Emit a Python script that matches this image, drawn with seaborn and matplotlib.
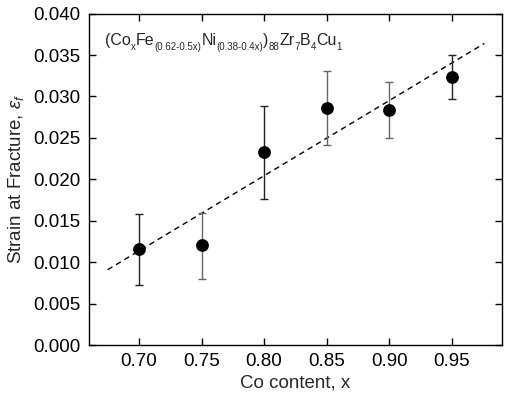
import matplotlib
matplotlib.use("Agg")
import matplotlib.pyplot as plt
import matplotlib.transforms as mtransforms
import seaborn as sns
from pandas import DataFrame

# data
co = [0.70, 0.75, 0.80, 0.85, 0.90, 0.95]
strain = [0.0116, 0.0121, 0.0233, 0.0286, 0.0284, 0.0324]
err_hi = [0.0158, 0.0160, 0.0289, 0.0331, 0.0318, 0.0350]
err_lo = [0.0073, 0.0080, 0.0176, 0.0242, 0.0250, 0.0297]
bar_colors = ["#222222", "#666666", "#222222", "#666666", "#666666", "#222222"]
fit_x = [0.675, 0.976]
fit_y = [0.0091, 0.0364]

# formula pieces: (text, is_subscript)
formula = [("(Co", False), ("x", True), ("Fe", False), ("(0.62-0.5x)", True),
           ("Ni", False), ("(0.38-0.4x)", True), (")", False), ("88", True),
           ("Zr", False), ("7", True), ("B", False), ("4", True),
           ("Cu", False), ("1", True)]

sns.set_theme(style="ticks")
plt.rcParams['font.family'] = ['Liberation Sans', 'DejaVu Sans']
plt.rcParams['mathtext.fontset'] = 'custom'
plt.rcParams['mathtext.rm'] = 'Liberation Sans'
plt.rcParams['mathtext.it'] = 'Liberation Sans:italic'

fig, ax = plt.subplots(figsize=(5.08, 3.99), dpi=100)
fig.subplots_adjust(left=0.175, right=0.988, top=0.966, bottom=0.135)

df = DataFrame({'x': co, 'y': strain})
df_fit = DataFrame({'x': fit_x, 'y': fit_y})

sns.lineplot(x='x', y='y', data=df_fit, ax=ax, color='black', linewidth=1.0)
ax.lines[0].set_linestyle((0, (4, 3)))

for xi, yi, hi, lo, c in zip(co, strain, err_hi, err_lo, bar_colors):
    ax.errorbar([xi], [yi], yerr=[[yi - lo], [hi - yi]], fmt='none',
                ecolor=c, elinewidth=1.0, capsize=3, capthick=1.0)

sns.scatterplot(x='x', y='y', data=df, ax=ax, color='black', s=85,
                edgecolor='black', linewidth=0, zorder=5)

ax.set_xlim(0.66, 0.99)
ax.set_ylim(0.0, 0.040)
ax.set_xticks(co)
ax.set_xticklabels([f"{v:.2f}" for v in co])
ax.set_yticks([i * 0.005 for i in range(9)])
ax.set_yticklabels([f"{i * 0.005:.3f}" for i in range(9)])
ax.tick_params(direction='in', length=5, width=1, labelsize=13.5, colors='black',
               right=True, top=True, pad=6)
for s in ax.spines.values():
    s.set_linewidth(1.0)
    s.set_color('black')

ax.set_xlabel("Co content, x", fontsize=13.5, labelpad=3)
ax.set_ylabel(r"Strain at Fracture, $\varepsilon_f$", fontsize=13.5, labelpad=5)

# formula laid out piece by piece so the subscripts stay small
renderer = fig.canvas.get_renderer()
trans = ax.transAxes
for txt, sub in formula:
    t = ax.text(0.04, 0.905, txt, ha='left', va='baseline',
                fontsize=7 if sub else 11.5,
                transform=mtransforms.offset_copy(trans, fig=fig, x=0,
                                                  y=-3.2 if sub else 0, units='points'))
    w = t.get_window_extent(renderer).width
    trans = mtransforms.offset_copy(trans, fig=fig, x=w * 72 / fig.dpi, y=0, units='points')

fig.savefig("out.png", dpi=100)
plt.close()
